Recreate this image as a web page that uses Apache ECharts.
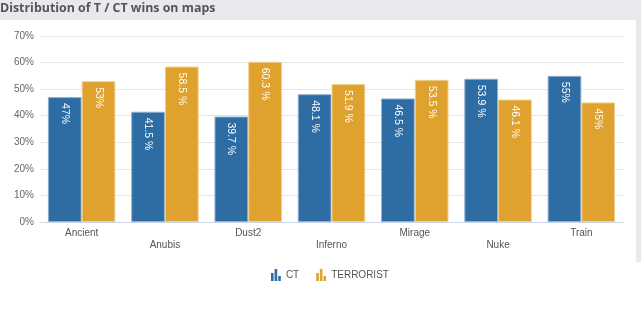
<!DOCTYPE html>
<html><head><meta charset="utf-8">
<script src="https://cdn.jsdelivr.net/npm/echarts@6/dist/echarts.min.js"></script>
<style>html,body{margin:0;padding:0;background:#fff}#c{width:641px;height:325px}</style>
</head><body><div id="c"></div>
<script>
const categories = ['Ancient','Anubis','Dust2','Inferno','Mirage','Nuke','Train'];
const ctValues = [47, 41.5, 39.7, 48.1, 46.5, 53.9, 55];
const tValues = [53, 58.5, 60.3, 51.9, 53.5, 46.1, 45];
const seriesNames = ['CT', 'TERRORIST'];
const yTicks = [0, 10, 20, 30, 40, 50, 60, 70];

const chart = echarts.init(document.getElementById('c'), null, {renderer:'canvas'});
const barIcon = 'path://M0,4h2.6v8h-2.6z M3.6,0h2.6v12h-2.6z M7.2,7h2.6v5h-2.6z';
const fmt = p => (Number.isInteger(p.value) ? p.value + '%' : p.value + ' %');
const labelCfg = {
  show: true, position: 'insideTop', rotate: -90, align: 'left', verticalAlign: 'middle',
  distance: 6, color: '#fff', fontSize: 10.5, fontFamily: 'Liberation Sans, Arial, sans-serif', formatter: fmt
};
chart.setOption({
  animation: false,
  textStyle: {fontFamily: 'Liberation Sans, Arial, sans-serif'},
  graphic: [
    {type:'rect', left:0, top:0, shape:{width:641, height:20}, style:{fill:'#e8e9ed'}, z:-1},
    {type:'rect', left:636, top:20, shape:{width:5, height:242}, style:{fill:'#e8e9ed'}, z:-1},
    {type:'text', left:0, top:2, style:{text:'Distribution of T / CT wins on maps', fill:'#555', font:'bold 12.4px "Open Sans", sans-serif'}}
  ],
  grid: {left: 40, right: 18, top: 36, bottom: 103},
  legend: {
    data: seriesNames, left: 266, top: 264, itemWidth: 10, itemHeight: 12, itemGap: 17,
    icon: barIcon, itemStyle: {borderWidth: 0}, textStyle: {color: '#555', fontSize: 10}
  },
  xAxis: {
    type: 'category', data: categories,
    axisTick: {show: false},
    axisLine: {lineStyle: {color: '#ccd6eb'}},
    axisLabel: {interval: 0, color: '#555', fontSize: 10, lineHeight: 12, margin: 5,
      formatter: (v, i) => (i % 2 ? '\n' + v : v)}
  },
  yAxis: {
    type: 'value', min: 0, max: 70, interval: 10,
    axisLabel: {color: '#666', fontSize: 10, margin: 6, formatter: v => yTicks.includes(v) ? v + '%' : ''},
    splitLine: {lineStyle: {color: '#e6e6e6'}}
  },
  series: [
    {name: seriesNames[0], type: 'bar', data: ctValues, barGap: '0%', barCategoryGap: '19%',
      itemStyle: {color: '#2e6da4', borderColor: '#8fb0cf', borderWidth: 1}, label: labelCfg},
    {name: seriesNames[1], type: 'bar', data: tValues,
      itemStyle: {color: '#e0a22e', borderColor: '#f2d08a', borderWidth: 1}, label: labelCfg}
  ]
});
</script></body></html>
